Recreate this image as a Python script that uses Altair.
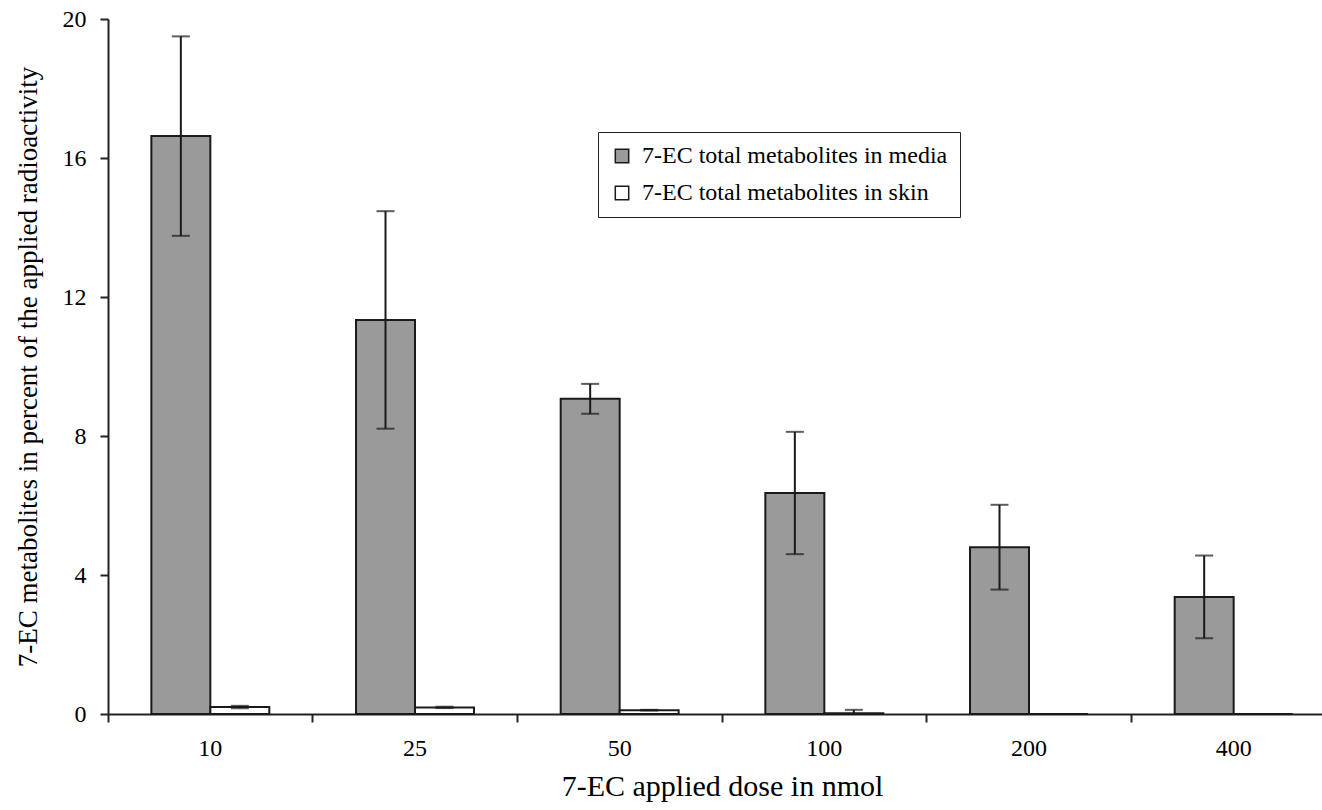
import altair as alt
import pandas as pd

# Applied doses (nmol) and the two measured compartments
doses = ["10", "25", "50", "100", "200", "400"]
series = ["7-EC total metabolites in media", "7-EC total metabolites in skin"]

# Mean metabolites (% of applied radioactivity) and standard deviations
media_mean = [16.63, 11.34, 9.07, 6.36, 4.80, 3.37]
media_sd = [2.87, 3.13, 0.43, 1.76, 1.22, 1.19]
skin_mean = [0.20, 0.19, 0.11, 0.02, 0.0, 0.0]
skin_sd = [0.035, 0.02, 0.01, 0.10, 0.0, 0.0]

rows = []
for i, d in enumerate(doses):
    rows.append({"dose": d, "series": series[0], "value": media_mean[i],
                 "lo": media_mean[i] - media_sd[i], "hi": media_mean[i] + media_sd[i]})
    rows.append({"dose": d, "series": series[1], "value": skin_mean[i],
                 "lo": max(skin_mean[i] - skin_sd[i], 0), "hi": skin_mean[i] + skin_sd[i]})
df = pd.DataFrame(rows)

SERIF = "Liberation Serif"
PLOT_W = 1214
X_RANGE = 1228

common_axis = dict(
    labelFont=SERIF,
    titleFont=SERIF,
    labelColor="black",
    titleColor="black",
    titleFontWeight="normal",
    tickSize=8,
    tickWidth=2,
    tickColor="#222222",
    domainColor="#222222",
    domainWidth=2,
    grid=False,
)

x_enc = alt.X(
    "dose:N",
    sort=doses,
    scale=alt.Scale(range=[0, X_RANGE], paddingInner=0, paddingOuter=0),
    axis=alt.Axis(
        title="7-EC applied dose in nmol",
        bandPosition=0,
        labelAngle=0,
        labelPadding=14,
        labelFontSize=24,
        titleFontSize=30,
        titlePadding=11,
        **common_axis,
    ),
)
xo_enc = alt.XOffset("series:N", sort=series,
                     scale=alt.Scale(paddingInner=0, paddingOuter=0.735))
y_scale = alt.Scale(domain=[0, 20], nice=False, zero=True)
y_axis = alt.Axis(
    title="7-EC metabolites in percent of the applied radioactivity",
    values=[0, 4, 8, 12, 16, 20],
    labelPadding=14,
    labelFontSize=24,
    titleFontSize=27,
    titlePadding=20,
    **common_axis,
)

base = alt.Chart(df).encode(x=x_enc, xOffset=xo_enc)

bars = base.mark_bar(stroke="#1a1a1a", strokeWidth=2).encode(
    y=alt.Y("value:Q", scale=y_scale, axis=y_axis),
    color=alt.Color(
        "series:N",
        sort=series,
        scale=alt.Scale(domain=series, range=["#999a99", "#ffffff"]),
        legend=alt.Legend(
            title=None,
            orient="none",
            legendX=490,
            legendY=113,
            direction="vertical",
            strokeColor="#222222",
            fillColor="#ffffff",
            padding=12,
            symbolType="square",
            symbolSize=180,
            symbolStrokeColor="#1a1a1a",
            symbolStrokeWidth=1.5,
            symbolOpacity=1,
            labelFont=SERIF,
            labelFontSize=24,
            labelColor="black",
            labelOffset=8,
            rowPadding=13,
            labelLimit=500,
        ),
    ),
)

whisker = base.mark_rule(color="#1a1a1a", strokeWidth=2).encode(
    y="lo:Q", y2="hi:Q"
)
cap_lo = base.mark_tick(color="#1a1a1a", thickness=2, size=18, orient="horizontal").encode(
    y="lo:Q"
)
cap_hi = base.mark_tick(color="#1a1a1a", thickness=2, size=18, orient="horizontal").encode(
    y="hi:Q"
)

chart = (
    alt.layer(bars, whisker, cap_lo, cap_hi)
    .properties(
        width=PLOT_W,
        height=695,
        autosize=alt.AutoSizeParams(type="none"),
        padding={"left": 108, "top": 19, "right": 0, "bottom": 96},
        background="white",
    )
    .configure_view(strokeWidth=0)
)

chart.save("out.html", embed_options={"renderer": "svg", "actions": False})
